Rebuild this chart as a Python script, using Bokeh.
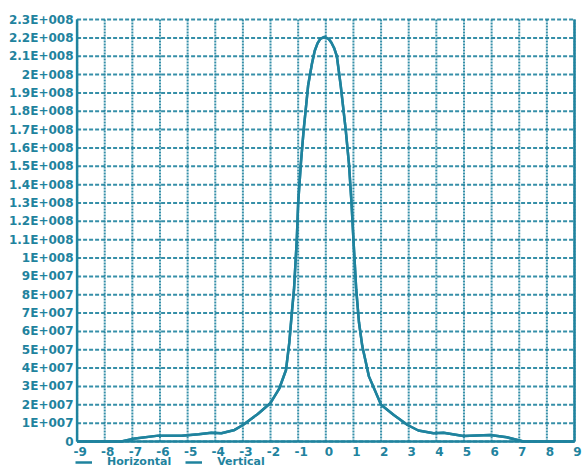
from bokeh.plotting import figure
from bokeh.models import FixedTicker, Legend, LegendItem, Range1d
from bokeh.core.properties import value
from bokeh.embed import file_html
from bokeh.resources import INLINE

# ---- data ----
x_pos = [-9, -8, -7.4, -6.9, -6.06, -5.22, -4.6, -4.14, -3.78, -3.3, -3.0, -2.46, -2.0,
         -1.68, -1.44, -1.32, -1.23, -1.15, -1.05, -1.0, -0.9, -0.8, -0.64, -0.5, -0.4,
         -0.3, -0.2, -0.05, 0.1, 0.2, 0.3, 0.4, 0.54, 0.72, 0.84, 0.93, 1.0, 1.1, 1.2,
         1.32, 1.56, 2.0, 2.46, 2.96, 3.35, 3.9, 4.26, 4.98, 5.95, 6.55, 7.15, 8, 9]
horizontal = [0, 0, 0, 0.17e7, 0.32e7, 0.32e7, 0.4e7, 0.48e7, 0.45e7, 0.63e7, 0.9e7, 1.5e7, 2.1e7,
              2.9e7, 3.9e7, 5.4e7, 7.0e7, 8.3e7, 11.0e7, 13.0e7, 15.2e7, 17.0e7, 19.4e7, 20.6e7, 21.3e7,
              21.7e7, 21.95e7, 22.05e7, 21.95e7, 21.75e7, 21.45e7, 21.0e7, 19.4e7, 17.0e7, 15.1e7, 13.0e7, 11.0e7, 8.3e7, 6.5e7,
              5.2e7, 3.55e7, 2.0e7, 1.45e7, 0.9e7, 0.6e7, 0.45e7, 0.48e7, 0.3e7, 0.36e7, 0.23e7, 0, 0, 0]
vertical = [0, 0, 0, 0.17e7, 0.32e7, 0.32e7, 0.4e7, 0.48e7, 0.45e7, 0.63e7, 0.9e7, 1.5e7, 2.1e7,
            2.9e7, 3.9e7, 5.4e7, 7.0e7, 8.3e7, 11.0e7, 13.0e7, 15.2e7, 17.0e7, 19.4e7, 20.6e7, 21.3e7,
            21.7e7, 21.95e7, 22.05e7, 21.95e7, 21.75e7, 21.45e7, 21.0e7, 19.4e7, 17.0e7, 15.1e7, 13.0e7, 11.0e7, 8.3e7, 6.5e7,
            5.2e7, 3.55e7, 2.0e7, 1.45e7, 0.9e7, 0.6e7, 0.45e7, 0.48e7, 0.3e7, 0.36e7, 0.23e7, 0, 0, 0]
series_names = ["Horizontal", "Vertical"]
x_ticks = list(range(-9, 10))
x_tick_labels = [str(t) for t in x_ticks]
y_ticks = [i * 1e7 for i in range(0, 24)]
y_tick_labels = ["0", "1E+007", "2E+007", "3E+007", "4E+007", "5E+007", "6E+007", "7E+007",
                 "8E+007", "9E+007", "1E+008", "1.1E+008", "1.2E+008", "1.3E+008", "1.4E+008",
                 "1.5E+008", "1.6E+008", "1.7E+008", "1.8E+008", "1.9E+008", "2E+008", "2.1E+008",
                 "2.2E+008", "2.3E+008"]
X_MIN, X_MAX = -9, 9
Y_TOP = 2.3e8

TEAL = "#1f839e"
FONT = "DejaVu Sans"

# frame padded around the plotting box so the outer tick labels and the legend stay visible
p = figure(width=587, height=469, output_backend="svg", toolbar_location=None,
           x_range=Range1d(-9.13, 9.47), y_range=Range1d(-1.526e7, 2.322e8),
           x_axis_location=None,
           min_border_left=73, min_border_right=0, min_border_top=15, min_border_bottom=0)
p.outline_line_color = None
p.background_fill_color = "white"
p.border_fill_color = "white"
p.xgrid.visible = False
p.ygrid.visible = False

n = len(x_ticks)
m = len(y_ticks)
# vertical dotted grid lines
p.segment(x0=x_ticks, y0=[0] * n, x1=x_ticks, y1=[Y_TOP] * n,
          line_color=TEAL, line_width=2, line_dash="2 1", line_alpha=0.9)
# horizontal dashed grid lines
p.segment(x0=[X_MIN] * m, y0=y_ticks, x1=[X_MAX] * m, y1=y_ticks,
          line_color=TEAL, line_width=2, line_dash="4 2", line_alpha=0.9)
# solid left axis, bottom axis and right border
p.segment(x0=[X_MIN, X_MIN, X_MAX], y0=[0, 0, 0], x1=[X_MIN, X_MAX, X_MAX], y1=[Y_TOP, 0, Y_TOP],
          line_color=TEAL, line_width=2.5)

r1 = p.line(x_pos, horizontal, line_color=TEAL, line_width=2.5)
r2 = p.line(x_pos, vertical, line_color=TEAL, line_width=2.5)

# x tick labels under zero
p.text(x=x_ticks, y=[0] * n, text=x_tick_labels, x_offset=3, y_offset=5,
       text_align="center", text_baseline="top", text_color=TEAL,
       text_font=value(FONT), text_font_style="bold", text_font_size="12px")

yax = p.yaxis[0]
yax.axis_line_color = None
yax.major_tick_line_color = None
yax.minor_tick_line_color = None
yax.major_tick_out = 0
yax.major_label_text_color = TEAL
yax.major_label_text_font = FONT
yax.major_label_text_font_style = "bold"
yax.major_label_text_font_size = "12px"
yax.ticker = FixedTicker(ticks=y_ticks)
yax.major_label_overrides = {t: s for t, s in zip(y_ticks, y_tick_labels)}
yax.major_label_standoff = 0

legend = Legend(items=[LegendItem(label=series_names[0], renderers=[r1]),
                       LegendItem(label=series_names[1], renderers=[r2])],
                location=(2, 1), orientation="horizontal",
                padding=0, margin=0, spacing=14, label_standoff=15,
                glyph_width=17, glyph_height=12, label_height=12,
                border_line_color=None, background_fill_alpha=0,
                label_text_color=TEAL, label_text_font=FONT, label_text_font_style="bold",
                label_text_font_size="11px")
p.add_layout(legend, "center")

open("out.html", "w").write(file_html(p, INLINE))
